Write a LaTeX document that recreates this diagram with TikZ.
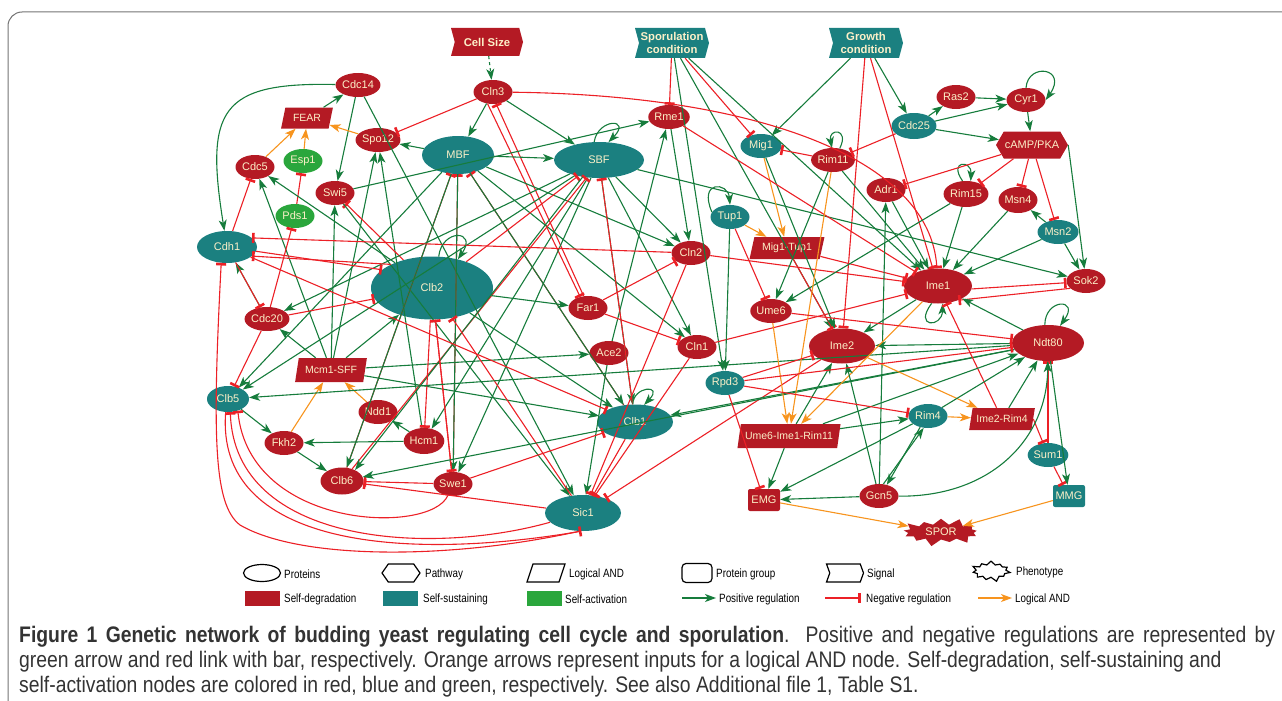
\documentclass[tikz,border=0pt]{standalone}
\usepackage{fontspec}
\setmainfont{Liberation Sans}
\newfontfamily\narrowfont[FakeStretch=0.86]{Liberation Sans}
\newfontfamily\legfont[FakeStretch=0.82]{Liberation Sans}
\usetikzlibrary{arrows.meta,shapes.geometric,shapes.symbols,shapes.misc}

\definecolor{nred}{RGB}{180,26,36}
\definecolor{nteal}{RGB}{27,128,128}
\definecolor{ngreen}{RGB}{42,166,60}
\definecolor{ntext}{RGB}{252,240,200}
\definecolor{egreen}{RGB}{22,124,60}
\definecolor{ered}{RGB}{236,32,38}
\definecolor{eorange}{RGB}{247,148,30}

\begin{document}
\begin{tikzpicture}
  [x=1pt, y=-1pt,
  prot/.style={ellipse, inner sep=0pt, minimum width=39pt, minimum height=24pt, text=ntext, font=\fontsize{11}{12}\selectfont},
  deg/.style={prot, fill=nred},
  sus/.style={prot, fill=nteal},
  act/.style={prot, fill=ngreen},
  andnode/.style={trapezium, trapezium left angle=72, trapezium right angle=108, trapezium stretches=true, inner sep=1pt, minimum height=22pt, fill=nred, text=ntext, font=\fontsize{10.5}{12}\selectfont},
  sig/.style={signal, signal from=west, signal to=east, signal pointer angle=150, inner sep=1pt, minimum width=74pt, minimum height=30pt, fill=nteal, text=ntext, align=center, font=\bfseries\fontsize{11.3}{12.3}\selectfont},
  grp/.style={rectangle, rounded corners=2pt, minimum width=32pt, minimum height=22pt, inner sep=0pt, text=ntext, font=\fontsize{11}{12}\selectfont},
  posreg/.style={egreen, line width=1.1pt, -{Stealth[length=11pt, width=8pt, inset=3pt]}},
  negreg/.style={ered, line width=1.1pt, -{Bar[width=10pt, line width=2.6pt]}},
  andreg/.style={eorange, line width=1.1pt, -{Stealth[length=11pt, width=8pt, inset=3pt]}},
  legshape/.style={draw=black, line width=1.2pt, fill=white, inner sep=1pt},
  legbox/.style={rectangle, inner sep=0pt, minimum width=35pt, minimum height=15pt},
  legtxt/.style={anchor=west, inner sep=0pt, font=\legfont\fontsize{12}{12}\selectfont},
  captxt/.style={anchor=west, inner sep=0pt, text=black!80, font=\narrowfont\fontsize{22.5}{25}\selectfont}]

  \useasboundingbox (0,0) rectangle (1282,701);
  \draw[black!55, line width=1pt, rounded corners=14pt] (8,12) rectangle (1330,760);

  % signals
  \node[sig, fill=nred, minimum width=72pt, minimum height=28pt] (cellsize) at (487,42) {Cell Size};
  \node[sig] (sporcond) at (672,43) {Sporulation\\condition};
  \node[sig] (growth) at (866,43) {Growth\\condition};

  % cell cycle
  \node[deg] (cln3) at (493,92) {Cln3};
  \node[deg] (cdc14) at (358,85) {Cdc14};
  \node[andnode, minimum width=52pt, minimum height=21pt] (fear) at (307,118) {FEAR};
  \node[deg] (spo12) at (378,140) {Spo12};
  \node[sus, minimum width=72pt, minimum height=38pt] (mbf) at (458,155) {MBF};
  \node[sus, minimum width=90pt, minimum height=36pt] (sbf) at (599,160) {SBF};
  \node[deg] (cdc5) at (255,167) {Cdc5};
  \node[act] (esp1) at (303,161) {Esp1};
  \node[deg] (swi5) at (335,193) {Swi5};
  \node[act] (pds1) at (295,216) {Pds1};
  \node[sus, minimum width=60pt, minimum height=32pt] (cdh1) at (227,247) {Cdh1};
  \node[sus, minimum width=122pt, minimum height=63pt] (clb2) at (432,288) {Clb2};
  \node[deg, minimum width=41pt] (cdc20) at (267,319) {Cdc20};
  \node[andnode, minimum width=72pt, minimum height=24pt] (mcm) at (331,370) {Mcm1-SFF};
  \node[sus, minimum width=42pt, minimum height=26pt] (clb5) at (228,399) {Clb5};
  \node[deg] (cln2) at (691,253) {Cln2};
  \node[deg] (far1) at (588,308) {Far1};
  \node[deg] (cln1) at (697,347) {Cln1};
  \node[deg] (ace2) at (609,353) {Ace2};
  \node[deg] (ndd1) at (378,412) {Ndd1};
  \node[deg] (fkh2) at (284,443) {Fkh2};
  \node[deg, minimum height=26pt] (hcm1) at (424,441) {Hcm1};
  \node[deg, minimum width=43pt, minimum height=27pt] (clb6) at (342,481) {Clb6};
  \node[deg] (swe1) at (453,484) {Swe1};
  \node[sus, minimum width=76pt, minimum height=35pt] (clb1) at (635,422) {Clb1};
  \node[sus, minimum width=76pt, minimum height=36pt] (sic1) at (583,513) {Sic1};

  % sporulation
  \node[deg] (rme1) at (669,117) {Rme1};
  \node[sus, minimum width=41pt] (mig1) at (761,146) {Mig1};
  \node[sus] (tup1) at (730,217) {Tup1};
  \node[deg] (ras2) at (956,97) {Ras2};
  \node[deg] (cyr1) at (1026,100) {Cyr1};
  \node[sus, minimum width=43pt, minimum height=26pt] (cdc25) at (914,126) {Cdc25};
  \node[signal, signal to=west and east, signal pointer angle=120, inner sep=1pt, minimum width=68pt, minimum height=27pt, fill=nred, text=ntext, font=\fontsize{11}{12}\selectfont] (pka) at (1032,145) {cAMP/PKA};
  \node[deg, minimum width=41pt] (rim11) at (833,160) {Rim11};
  \node[deg] (adr1) at (886,190) {Adr1};
  \node[deg, minimum width=41pt, minimum height=26pt] (rim15) at (966,194) {Rim15};
  \node[deg, minimum height=26pt] (msn4) at (1018,200) {Msn4};
  \node[sus, minimum width=41pt] (msn2) at (1058,232) {Msn2};
  \node[deg] (sok2) at (1086,281) {Sok2};
  \node[andnode, minimum width=75pt] (migtup) at (787,248) {Mig1-Tup1};
  \node[deg, minimum width=68pt, minimum height=35pt] (ime1) at (938,286) {Ime1};
  \node[deg] (ume6) at (771,311) {Ume6};
  \node[deg, minimum width=66pt, minimum height=35pt] (ime2) at (842,346) {Ime2};
  \node[deg, minimum width=72pt, minimum height=36pt] (ndt80) at (1048,343) {Ndt80};
  \node[sus] (rpd3) at (725,383) {Rpd3};
  \node[andnode, minimum width=104pt, minimum height=24pt] (uir) at (789,436) {Ume6-Ime1-Rim11};
  \node[sus] (rim4) at (928,416) {Rim4};
  \node[andnode, minimum width=66pt] (imerim) at (1002,419) {Ime2-Rim4};
  \node[sus] (sum1) at (1048,455) {Sum1};
  \node[grp, fill=nred] (emg) at (764,500) {EMG};
  \node[grp, fill=nteal] (mmg) at (1069,496) {MMG};
  \node[deg] (gcn5) at (879,496) {Gcn5};
  \node[starburst, starburst points=13, starburst point height=8pt, inner sep=1pt, minimum width=82pt, minimum height=31pt, fill=nred, text=ntext, font=\fontsize{11}{12}\selectfont] (spor) at (941,532) {SPOR};

  % signal inputs
  \draw[posreg, dashed] (cellsize) -- (cln3);
  \draw[negreg] (sporcond) -- (rme1);
  \draw[negreg] (sporcond) -- (mig1);
  \draw[posreg] (sporcond) -- (ime1);
  \draw[posreg] (sporcond) -- (ime2);
  \draw[posreg] (sporcond) -- (rpd3);
  \draw[posreg] (growth) -- (mig1);
  \draw[posreg] (growth) -- (cdc25);
  \draw[negreg] (growth) -- (ime1);
  \draw[negreg] (growth) -- (ime2);

  % cell cycle links
  \draw[posreg] (cln3) -- (mbf);
  \draw[posreg] (cln3) -- (sbf);
  \draw[negreg] (cln3) -- (spo12);
  \draw[negreg] (cln3.245) -- (far1.125);
  \draw[negreg] (far1.110) -- (cln3.285);
  \draw[negreg] (cln3) .. controls (760,95) and (930,160) .. (ime1);
  \draw[posreg] (fear) -- (cdc14);
  \draw[posreg] (cdc14) .. controls (220,82) and (205,110) .. (cdh1);
  \draw[posreg] (cdc14) -- (swi5);
  \draw[posreg] (cdc14) -- (sic1);
  \draw[andreg] (cdc5) -- (fear);
  \draw[andreg] (esp1) -- (fear);
  \draw[andreg] (spo12) -- (fear);
  \draw[negreg] (pds1) -- (esp1);
  \draw[negreg] (cdh1) -- (cdc5);
  \draw[posreg] (mcm) -- (cdc5);
  \draw[posreg] (clb2) -- (cdc5);
  \draw[posreg] (mbf) -- (spo12);
  \draw[posreg] (mcm) -- (spo12);
  \draw[posreg] (hcm1) -- (spo12);
  \draw[negreg] (clb2) -- (swi5);
  \draw[posreg] (mcm) -- (swi5);
  \draw[posreg] (swi5) -- (rme1);
  \draw[posreg] (ace2) -- (rme1);
  \draw[posreg] (rme1) -- (cln2);
  \draw[posreg] (swi5) -- (sic1);
  \draw[posreg] (ace2) -- (sic1);
  \draw[negreg] (clb6) -- (mbf);
  \draw[negreg] (swe1) -- (mbf);
  \draw[negreg] (clb1) -- (mbf);
  \draw[posreg] (mbf) -- (sbf);
  \draw[posreg] (mbf) -- (clb5);
  \draw[posreg] (mbf) -- (clb6);
  \draw[posreg] (mbf) -- (swe1);
  \draw[posreg] (mbf) -- (cln2);
  \draw[posreg] (mbf) -- (cln1);
  \draw[posreg] (mbf) -- (clb1);
  \draw[posreg] (sbf) -- (cln1);
  \draw[posreg] (sbf) -- (cln2);
  \draw[posreg] (sbf) -- (swe1);
  \draw[posreg] (sbf) -- (hcm1);
  \draw[posreg] (sbf) -- (clb5);
  \draw[posreg] (sbf) -- (cdc20);
  \draw[posreg] (sbf) -- (sok2);
  \draw[posreg] (sbf) -- (clb1);
  \draw[negreg] (clb2) -- (sbf);
  \draw[negreg] (clb1) -- (sbf);
  \draw[negreg] (clb6.50) -- (sbf.235);
  \draw[posreg] (sbf.226) -- (clb6.40);
  \draw[posreg] (clb2) -- (far1);
  \draw[posreg] (mcm) -- (clb2);
  \draw[posreg] (mcm) -- (cdc20);
  \draw[posreg] (mcm) -- (clb1);
  \draw[posreg] (mcm) -- (ace2);
  \draw[posreg] (cdc20) -- (cdh1);
  \draw[negreg] (cdc20) -- (pds1);
  \draw[negreg] (cdc20) -- (clb2);
  \draw[negreg] (cdc20) -- (clb5);
  \draw[negreg] (cdh1) -- (cdc20);
  \draw[negreg] (cdh1) -- (clb2.160);
  \draw[negreg] (clb2.150) -- (cdh1.-20);
  \draw[negreg] (cln2) -- (cdh1.20);
  \draw[negreg] (cdh1) -- (clb1);
  \draw[posreg] (clb5) -- (fkh2);
  \draw[posreg] (fkh2) -- (clb6);
  \draw[andreg] (fkh2) -- (mcm);
  \draw[andreg] (ndd1) -- (mcm);
  \draw[posreg] (hcm1) -- (fkh2);
  \draw[posreg] (hcm1) -- (ndd1);
  \draw[negreg] (clb2) -- (hcm1);
  \draw[negreg] (clb2) -- (swe1);
  \draw[negreg] (swe1) -- (clb2);
  \draw[negreg] (sic1) -- (clb2);
  \draw[negreg] (swe1) -- (clb6);
  \draw[negreg] (sic1) -- (clb6);
  \draw[negreg] (swe1) -- (clb1);
  \draw[posreg] (clb2) -- (clb1);
  \draw[negreg] (clb1) -- (sic1);
  \draw[negreg] (cln1) -- (sic1);
  \draw[negreg] (cln2) -- (sic1);
  \draw[negreg] (ime2) -- (sic1);
  \draw[negreg] (far1) -- (cln2);
  \draw[negreg] (far1) -- (cln1);
  \draw[negreg] (cln2) -- (ime1);
  \draw[negreg] (cln1) -- (ime1);
  \draw[posreg] (ndt80) -- (clb5);
  \draw[posreg] (ndt80) -- (clb6);
  \draw[posreg] (ndt80) -- (clb1);
  \draw[negreg] (sic1) .. controls (430,556) and (235,545) .. (clb5.-80);
  \draw[negreg] (clb5.-100) .. controls (215,545) and (400,562) .. (sic1.-95);
  \draw[negreg] (swe1) .. controls (430,535) and (250,530) .. (clb5.-50);
  \draw[negreg] (sic1.-100) .. controls (450,560) and (300,560) .. (240,525) .. controls (214,505) and (212,440) .. (cdh1.250);

  % self loops
  \draw[posreg] (sbf.105) .. controls (598,118) and (632,118) .. (sbf.62);
  \draw[posreg] (clb2.78) .. controls (442,228) and (478,230) .. (clb2.48);
  \draw[posreg] (clb1.97) .. controls (633,386) and (664,384) .. (clb1.62);
  \draw[posreg] (tup1.165) .. controls (698,180) and (728,182) .. (tup1.north);
  \draw[posreg] (rim11.60) .. controls (850,128) and (828,128) .. (rim11.95);
  \draw[posreg] (rim15.105) .. controls (948,160) and (972,160) .. (rim15.70);
  \draw[posreg] (cyr1.north) .. controls (1028,62) and (1068,68) .. (cyr1.east);
  \draw[posreg] (ime1.250) .. controls (913,328) and (942,328) .. (ime1.285);
  \draw[posreg] (ndt80.100) .. controls (1045,298) and (1080,298) .. (ndt80.55);

  % sporulation links
  \draw[andreg] (mig1) -- (migtup);
  \draw[andreg] (tup1) -- (migtup);
  \draw[negreg] (migtup) -- (ime1);
  \draw[negreg] (migtup) -- (ime2);
  \draw[posreg] (mig1) -- (ime2);
  \draw[negreg] (rme1) -- (ime1);
  \draw[negreg] (tup1) -- (ume6);
  \draw[posreg] (tup1) -- (rpd3);
  \draw[posreg] (rim11) -- (ume6);
  \draw[posreg] (rim11) -- (ime1);
  \draw[negreg] (rim11) -- (mig1);
  \draw[negreg] (cdc25) -- (rim11);
  \draw[posreg] (cdc25) -- (ras2);
  \draw[posreg] (cdc25) -- (cyr1);
  \draw[posreg] (cdc25) -- (pka);
  \draw[posreg] (ras2) -- (cyr1);
  \draw[posreg] (cyr1) -- (pka);
  \draw[negreg] (pka) -- (adr1);
  \draw[negreg] (pka) -- (rim15);
  \draw[negreg] (pka) -- (msn4);
  \draw[negreg] (pka) -- (msn2);
  \draw[posreg] (pka.east) -- (sok2);
  \draw[posreg] (adr1) -- (ime1);
  \draw[posreg] (gcn5) -- (adr1);
  \draw[posreg] (rim15) -- (ime1);
  \draw[posreg] (rim15) -- (ume6);
  \draw[posreg] (msn4) -- (ime1);
  \draw[posreg] (msn2) -- (ime1);
  \draw[posreg] (msn2) -- (msn4);
  \draw[posreg] (msn2) -- (sok2);
  \draw[negreg] (ime1.-5) -- (sok2.185);
  \draw[negreg] (sok2.205) -- (ime1.-35);
  \draw[posreg] (ime1) -- (ime2);
  \draw[posreg] (ndt80) -- (ime1);
  \draw[posreg] (ndt80) -- (ime2);
  \draw[andreg] (ime1) -- (uir);
  \draw[andreg] (rim11) -- (uir);
  \draw[andreg] (ume6) -- (uir);
  \draw[negreg] (ume6) -- (ndt80);
  \draw[andreg] (rim4) -- (imerim);
  \draw[andreg] (ime2) -- (imerim);
  \draw[negreg] (imerim) -- (ime1);
  \draw[posreg] (imerim) -- (ndt80);
  \draw[negreg] (imerim.east) -- (sum1);
  \draw[negreg] (sum1) -- (ndt80);
  \draw[negreg] (sum1) -- (mmg);
  \draw[posreg] (ndt80) -- (mmg);
  \draw[posreg] (gcn5) .. controls (990,497) and (1047,440) .. (ndt80);
  \draw[posreg] (uir) -- (emg);
  \draw[posreg] (uir) -- (rim4);
  \draw[posreg] (uir) -- (ndt80);
  \draw[posreg] (uir) -- (ime2);
  \draw[posreg] (gcn5) -- (emg);
  \draw[posreg] (gcn5.70) -- (rim4.250);
  \draw[posreg] (rim4.235) -- (gcn5.55);
  \draw[posreg] (gcn5) -- (ime2);
  \draw[posreg] (rim4) -- (ndt80);
  \draw[posreg] (rim4) -- (emg);
  \draw[negreg] (rpd3) -- (ime2);
  \draw[negreg] (rpd3) -- (ndt80);
  \draw[negreg] (rpd3) -- (rim4);
  \draw[negreg] (rpd3) -- (emg);
  \draw[andreg] (emg) -- (spor);
  \draw[andreg] (mmg) -- (spor);

  % legend
  \node[legshape, ellipse, minimum width=37pt, minimum height=17pt] (lgprot) at (262,573) {\phantom{M}};
  \node[legtxt] (lgprottxt) at (284,574) {Proteins};
  \node[legshape, signal, signal to=west and east, signal pointer angle=110, minimum width=38pt, minimum height=18pt] (lgpath) at (401,573) {\phantom{M}};
  \node[legtxt] (lgpathtxt) at (425,574) {Pathway};
  \node[legshape, trapezium, trapezium left angle=75, trapezium right angle=105, trapezium stretches=true, minimum width=38pt, minimum height=18pt] (lgand) at (546,573) {\phantom{M}};
  \node[legtxt] (lgandtxt) at (569,574) {Logical AND};
  \node[legshape, rectangle, rounded corners=4pt, minimum width=30pt, minimum height=19pt] (lggrp) at (697,573) {\phantom{M}};
  \node[legtxt] (lggrptxt) at (716,574) {Protein group};
  \node[legshape, signal, signal from=west, signal to=east, signal pointer angle=140, minimum width=37pt, minimum height=18pt] (lgsig) at (845,573) {\phantom{M}};
  \node[legtxt] (lgsigtxt) at (867,574) {Signal};
  \node[legshape, starburst, starburst points=11, starburst point height=5pt, minimum width=40pt, minimum height=18pt] (lgphen) at (991,571) {\phantom{M}};
  \node[legtxt] (lgphentxt) at (1016,572) {Phenotype};

  \node[legbox, fill=nred] (lgdeg) at (262,598) {};
  \node[legtxt] (lgdegtxt) at (284,599) {Self-degradation};
  \node[legbox, fill=nteal] (lgsus) at (400,598) {};
  \node[legtxt] (lgsustxt) at (423,599) {Self-sustaining};
  \node[legbox, fill=ngreen] (lgact) at (544,598) {};
  \node[legtxt] (lgacttxt) at (565,599) {Self-activation};
  \coordinate (lgposa) at (682,598);
  \coordinate (lgposb) at (716,598);
  \draw[posreg] (lgposa) -- (lgposb);
  \node[legtxt] (lgpostxt) at (719,599) {Positive regulation};
  \coordinate (lgnega) at (825,598);
  \coordinate (lgnegb) at (861,598);
  \draw[negreg] (lgnega) -- (lgnegb);
  \node[legtxt] (lgnegtxt) at (866,599) {Negative regulation};
  \coordinate (lganda) at (978,598);
  \coordinate (lgandb) at (1012,598);
  \draw[andreg] (lganda) -- (lgandb);
  \node[legtxt] (lgandtxt2) at (1015,599) {Logical AND};

  % caption
  \node[captxt] (cap1) at (19,637) {\makebox[1256pt][s]{\textbf{Figure 1 Genetic network of budding yeast regulating cell cycle and sporulation}. Positive and negative regulations are represented by}};
  \node[captxt] (cap2) at (19,662) {green arrow and red link with bar, respectively. Orange arrows represent inputs for a logical AND node. Self-degradation, self-sustaining and};
  \node[captxt] (cap3) at (19,687) {self-activation nodes are colored in red, blue and green, respectively. See also Additional file 1, Table S1.};
\end{tikzpicture}
\end{document}
